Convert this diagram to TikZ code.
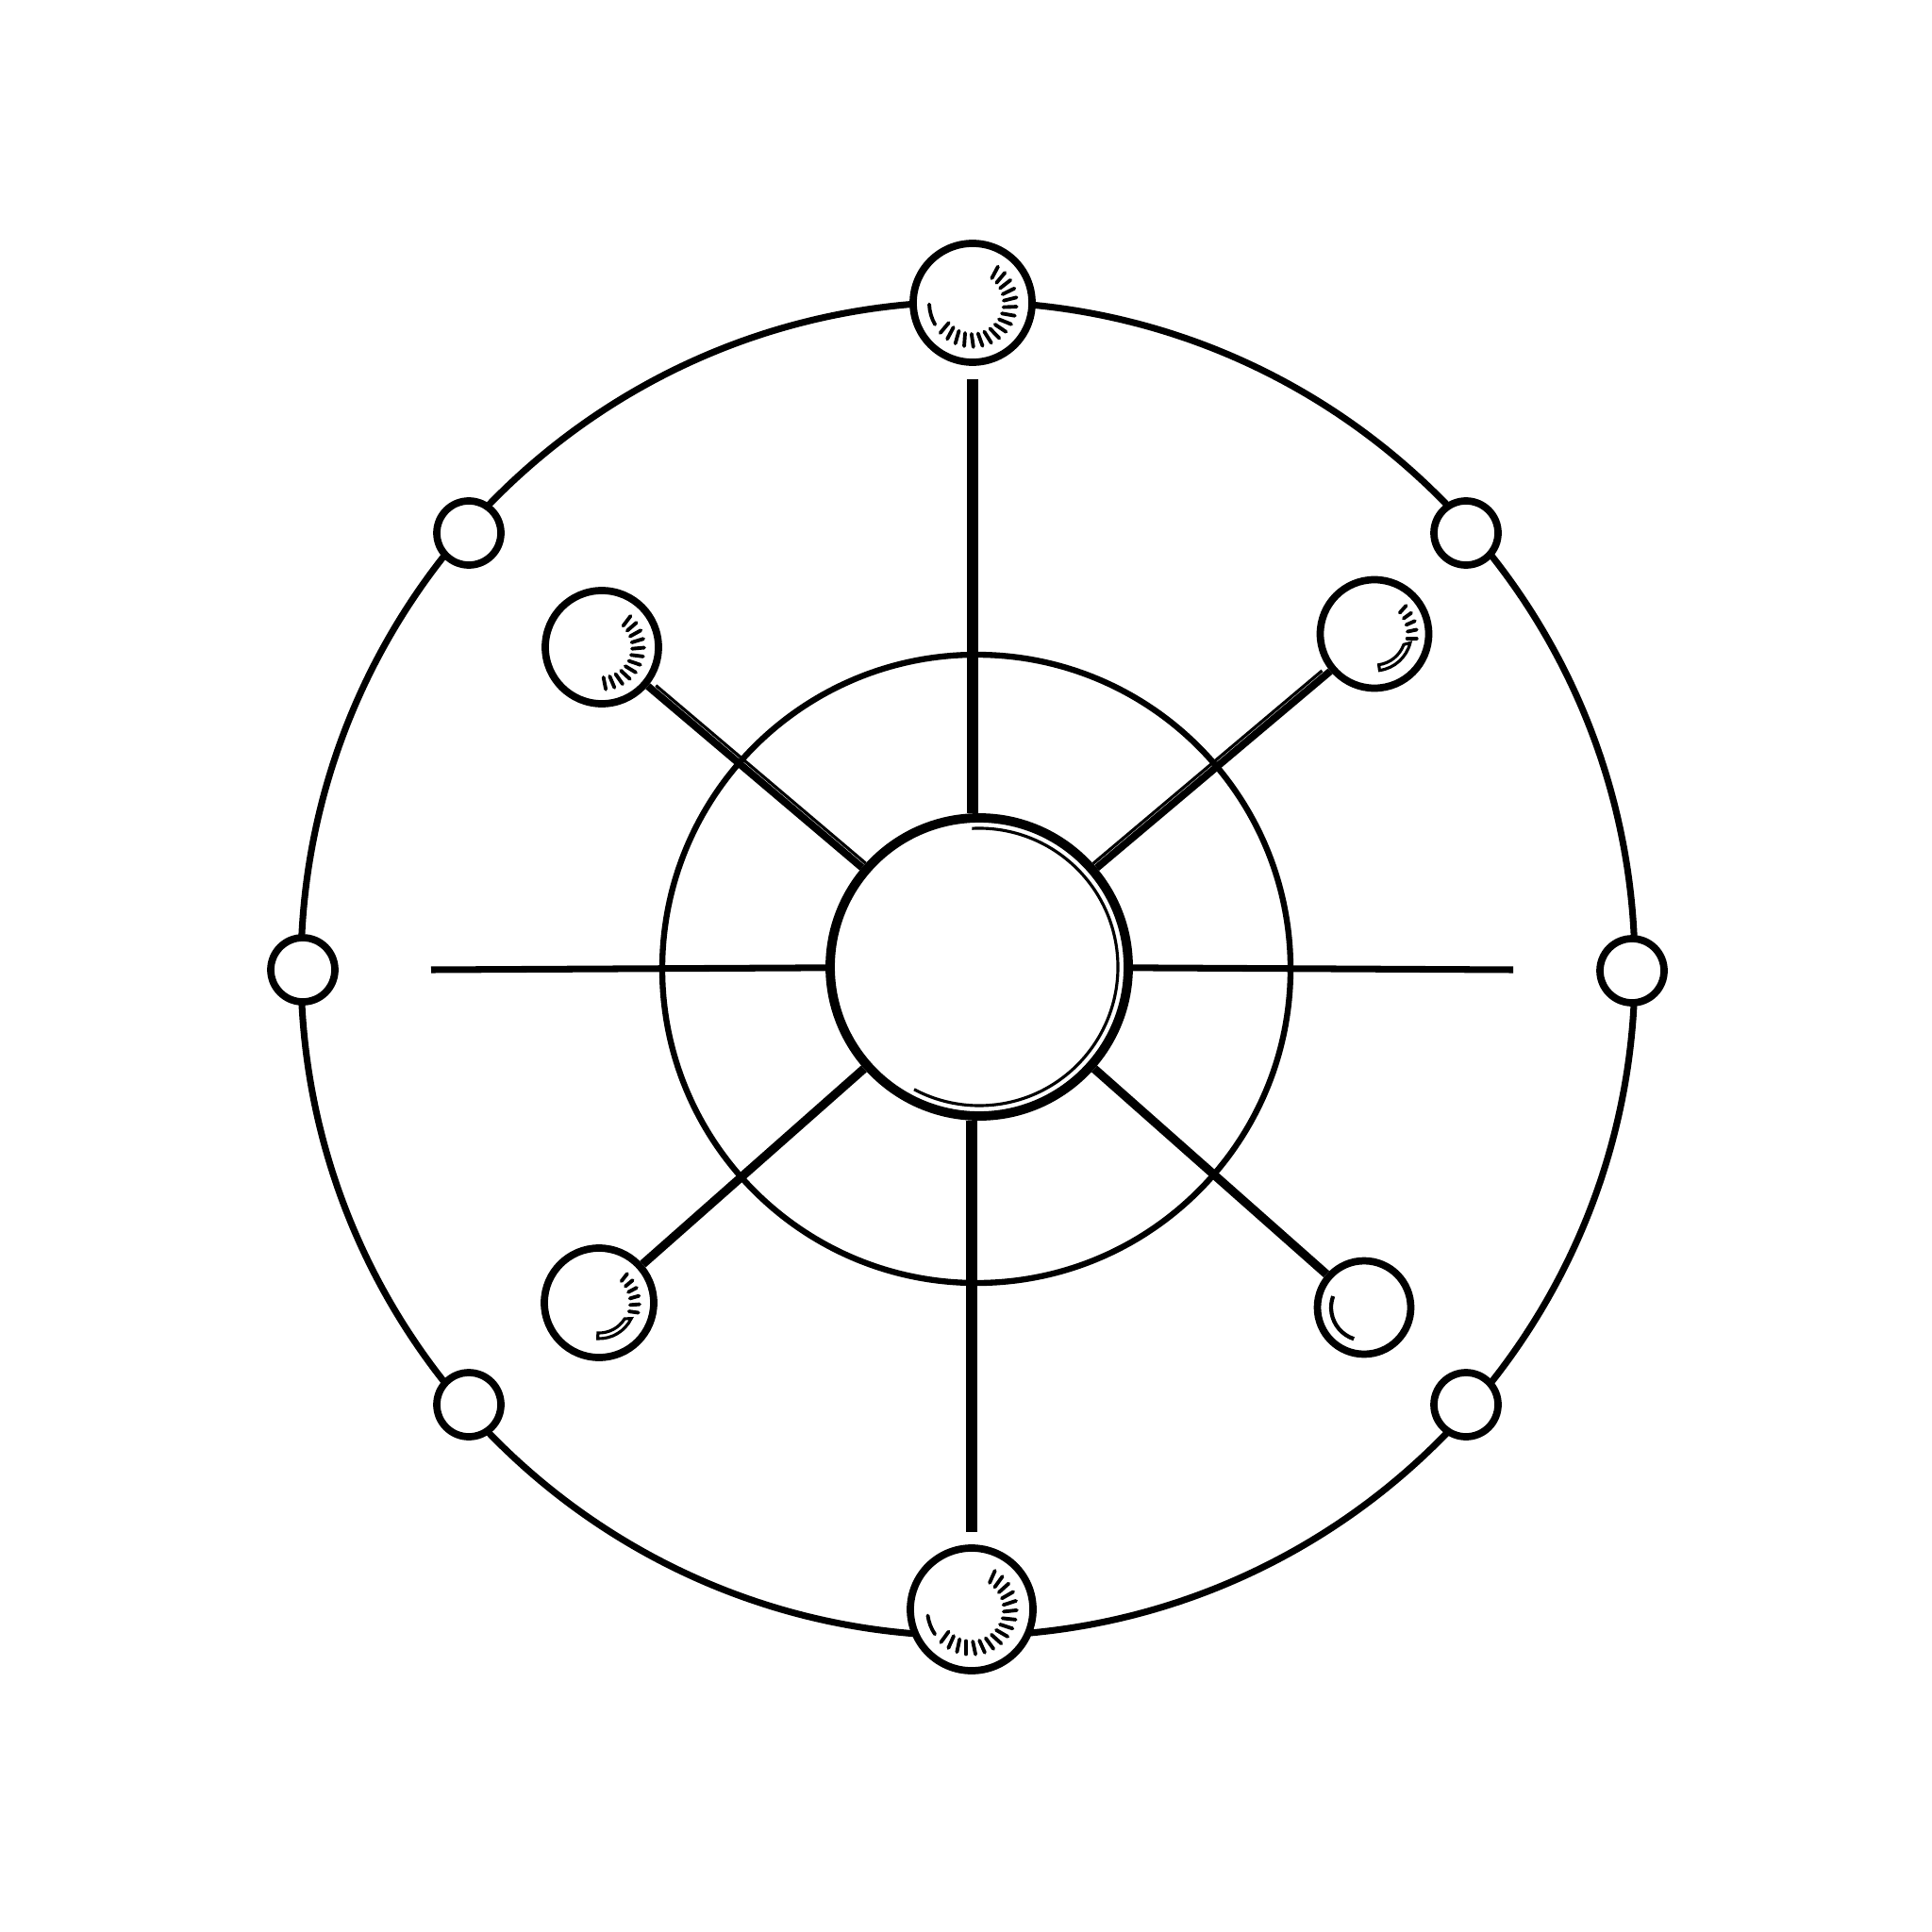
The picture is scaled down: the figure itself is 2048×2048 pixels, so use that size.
\documentclass[tikz,border=0pt]{standalone}
\usepackage{tikz}
\tikzset{%
  wheel/.style = {x=0.1mm, y=-0.1mm},
  rim/.style = {draw, line width=2pt},
  ball/.style = {shape=circle, draw, fill=white, inner sep=0pt, line width=2.2pt},
  bead/.style = {ball, minimum size=6.8mm},
  hubring/.style = {shape=circle, draw, fill=white, inner sep=0pt,
    line width=2.8pt, minimum size=31.6mm},
  spoke/.style = {draw, line width=3.4pt},
  bar/.style = {draw, line width=2pt},
  arm/.style = {draw, line width=2.6pt},
  gloss/.style = {draw, line width=0.9pt},
  hatch/.style = {draw, line width=1.1pt, line cap=round}
}

\begin{document}
\begin{tikzpicture}[wheel]
\fill[white] (0,0) rectangle (2048,2048);
% rings
\draw[rim] (1026,1027) circle[radius=707];
\draw[rim, line width=1.8pt] (1035,1027) circle[radius=333];

% hub and balls
\node[hubring] (hub) at (1038,1025) {};
\node[ball, minimum size=12.6mm] (ballN) at (1031,321) {};
\node[ball, minimum size=13mm] (ballS) at (1030,1706) {};
\node[ball, minimum size=12mm] (ballNW) at (638,686) {};
\node[ball, minimum size=11.5mm] (ballNE) at (1457,672) {};
\node[ball, minimum size=11.6mm] (ballSW) at (635,1381) {};
\node[ball, minimum size=9.9mm] (ballSE) at (1446,1386) {};

% beads on the rim
\node[bead] (beadW) at (321,1028) {};
\node[bead] (beadE) at (1730,1029) {};
\node[bead] (beadNW) at (497,565) {};
\node[bead] (beadNE) at (1554,565) {};
\node[bead] (beadSW) at (497,1489) {};
\node[bead] (beadSE) at (1554,1489) {};

% spokes
\draw[spoke, shorten <=1.4mm] (ballN) -- (ballN |- hub.north);
\draw[spoke, shorten >=1.3mm] (ballS |- hub.south) -- (ballS);
\coordinate (barW) at (457,1028);
\coordinate (barE) at (1604,1028);
\draw[bar] (barW) -- (hub);
\draw[bar] (hub) -- (barE);
\draw[arm, line width=2.2pt] (ballNW) -- (hub);
\draw[gloss, shorten <=0.6mm, transform canvas={shift={(0.4mm,0.45mm)}}] (ballNW) -- (hub);
\draw[arm, line width=2.2pt] (ballNE) -- (hub);
\draw[gloss, shorten <=0.6mm, transform canvas={shift={(-0.4mm,0.45mm)}}] (ballNE) -- (hub);
\draw[arm] (ballSW) -- (hub);
\draw[arm] (ballSE) -- (hub);

% shading
\draw[gloss] (hub) ++(-93:147) arc[start angle=-93, end angle=118, radius=147];
\draw[hatch] (ballN) ++(178:46) arc[start angle=178, end angle=150, radius=46];
\foreach \a in {140,128,...,-52}
  \draw[hatch] (ballN) ++(\a:33) -- ++({\a-10}:14);
\draw[hatch] (ballS) ++(172:47) arc[start angle=172, end angle=146, radius=47];
\foreach \a in {136,124,...,-56}
  \draw[hatch] (ballS) ++(\a:34) -- ++({\a-10}:14);
\foreach \a in {-45,-33,...,95}
  \draw[hatch] (ballNW) ++(\a:32) -- ++({\a-8}:13);
\foreach \a in {-40,-28,...,8}
  \draw[hatch] (ballNE) ++(\a:35) -- ++({\a-8}:10);
\draw[gloss] (ballNE) ++(14:39) arc[start angle=14, end angle=82, radius=39]
  -- ++(262:6) arc[start angle=82, end angle=20, radius=33] -- cycle;
\foreach \a in {-44,-32,...,20}
  \draw[hatch] (ballSW) ++(\a:33) -- ++({\a-8}:10);
\draw[gloss] (ballSW) ++(26:38) arc[start angle=26, end angle=92, radius=38]
  -- ++(272:6) arc[start angle=92, end angle=32, radius=32] -- cycle;
\draw[gloss, line width=1.2pt] (ballSE) ++(200:35) arc[start angle=200, end angle=108, radius=35];
\end{tikzpicture}
\end{document}
